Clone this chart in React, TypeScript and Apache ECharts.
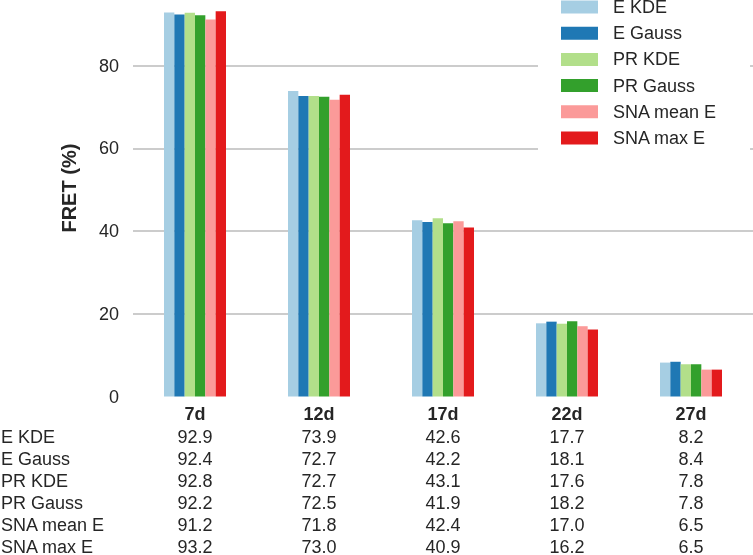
import React, { useEffect, useRef } from "react";
import * as echarts from "echarts";

const categories = ["7d", "12d", "17d", "22d", "27d"];
const seriesNames = ["E KDE", "E Gauss", "PR KDE", "PR Gauss", "SNA mean E", "SNA max E"];
const eKDE = [92.9, 73.9, 42.6, 17.7, 8.2];
const eGauss = [92.4, 72.7, 42.2, 18.1, 8.4];
const prKDE = [92.8, 72.7, 43.1, 17.6, 7.8];
const prGauss = [92.2, 72.5, 41.9, 18.2, 7.8];
const snaMean = [91.2, 71.8, 42.4, 17.0, 6.5];
const snaMax = [93.2, 73.0, 40.9, 16.2, 6.5];
const seriesValues = [eKDE, eGauss, prKDE, prGauss, snaMean, snaMax];
const colors = ["#a6cee3", "#1f78b4", "#b2df8a", "#33a02c", "#fb9a99", "#e31a1c"];

const FONT = "'Liberation Sans', Arial, Helvetica, sans-serif";
const TEXT = "#262626";

export default function App() {
  const ref = useRef<HTMLDivElement>(null);
  useEffect(() => {
    document.body.style.margin = "0";
    const chart = echarts.init(ref.current!, null, { renderer: "svg" });
    const option: any = {
      animation: false,
      textStyle: { fontFamily: FONT },
      grid: { left: 133, right: 0, top: 3.7, bottom: 158.5, containLabel: false },
      legend: {
        data: seriesNames,
        orient: "vertical",
        left: 538,
        top: -7,
        padding: [5, 33, 10, 23],
        backgroundColor: "#ffffff",
        itemWidth: 37,
        itemHeight: 13,
        itemGap: 8.2,
        icon: "rect",
        selectedMode: false,
        textStyle: { fontFamily: FONT, fontSize: 18, color: TEXT, lineHeight: 18, padding: [0, 0, 0, 10] },
      },
      xAxis: {
        type: "category",
        data: categories,
        axisLine: { show: false },
        axisTick: { show: false },
        axisLabel: { fontFamily: FONT, fontSize: 18, fontWeight: "bold", color: TEXT, margin: 8 },
      },
      yAxis: {
        type: "value",
        min: 0,
        max: 95,
        interval: 20,
        name: "FRET (%)",
        nameLocation: "middle",
        nameGap: 54,
        nameTextStyle: { fontFamily: FONT, fontSize: 20, fontWeight: "bold", color: TEXT, padding: [0, 0, 0, 24] },
        axisLine: { show: false },
        axisTick: { show: false },
        axisLabel: { fontFamily: FONT, fontSize: 18, color: TEXT, margin: 14, showMaxLabel: false },
        splitLine: {
          show: true,
          showMinLine: false,
          showMaxLine: false,
          lineStyle: { color: "#cccccc", width: 2 },
        },
      },
      series: seriesNames.map((name, i) => ({
        name,
        type: "bar",
        data: seriesValues[i],
        itemStyle: { color: colors[i] },
        barGap: "0%",
        barCategoryGap: "50%",
      })),
    };
    chart.setOption(option);

    const graphics: any[] = [];
    const rowY0 = 436.5;
    const rowStep = 22;
    seriesNames.forEach((name, r) => {
      const y = rowY0 + r * rowStep;
      graphics.push({
        type: "text",
        x: 1,
        y,
        style: { text: name, font: `18px ${FONT}`, fill: TEXT, textAlign: "left", textVerticalAlign: "middle" },
      });
      categories.forEach((cat, c) => {
        const px = chart.convertToPixel({ xAxisIndex: 0 }, cat) as number;
        graphics.push({
          type: "text",
          x: px,
          y,
          style: {
            text: seriesValues[r][c].toFixed(1),
            font: `18px ${FONT}`,
            fill: TEXT,
            textAlign: "center",
            textVerticalAlign: "middle",
          },
        });
      });
    });
    chart.setOption({ graphic: graphics });
    return () => chart.dispose();
  }, []);
  return <div ref={ref} style={{ position: "fixed", left: 0, top: 0, width: 753, height: 555 }} />;
}
